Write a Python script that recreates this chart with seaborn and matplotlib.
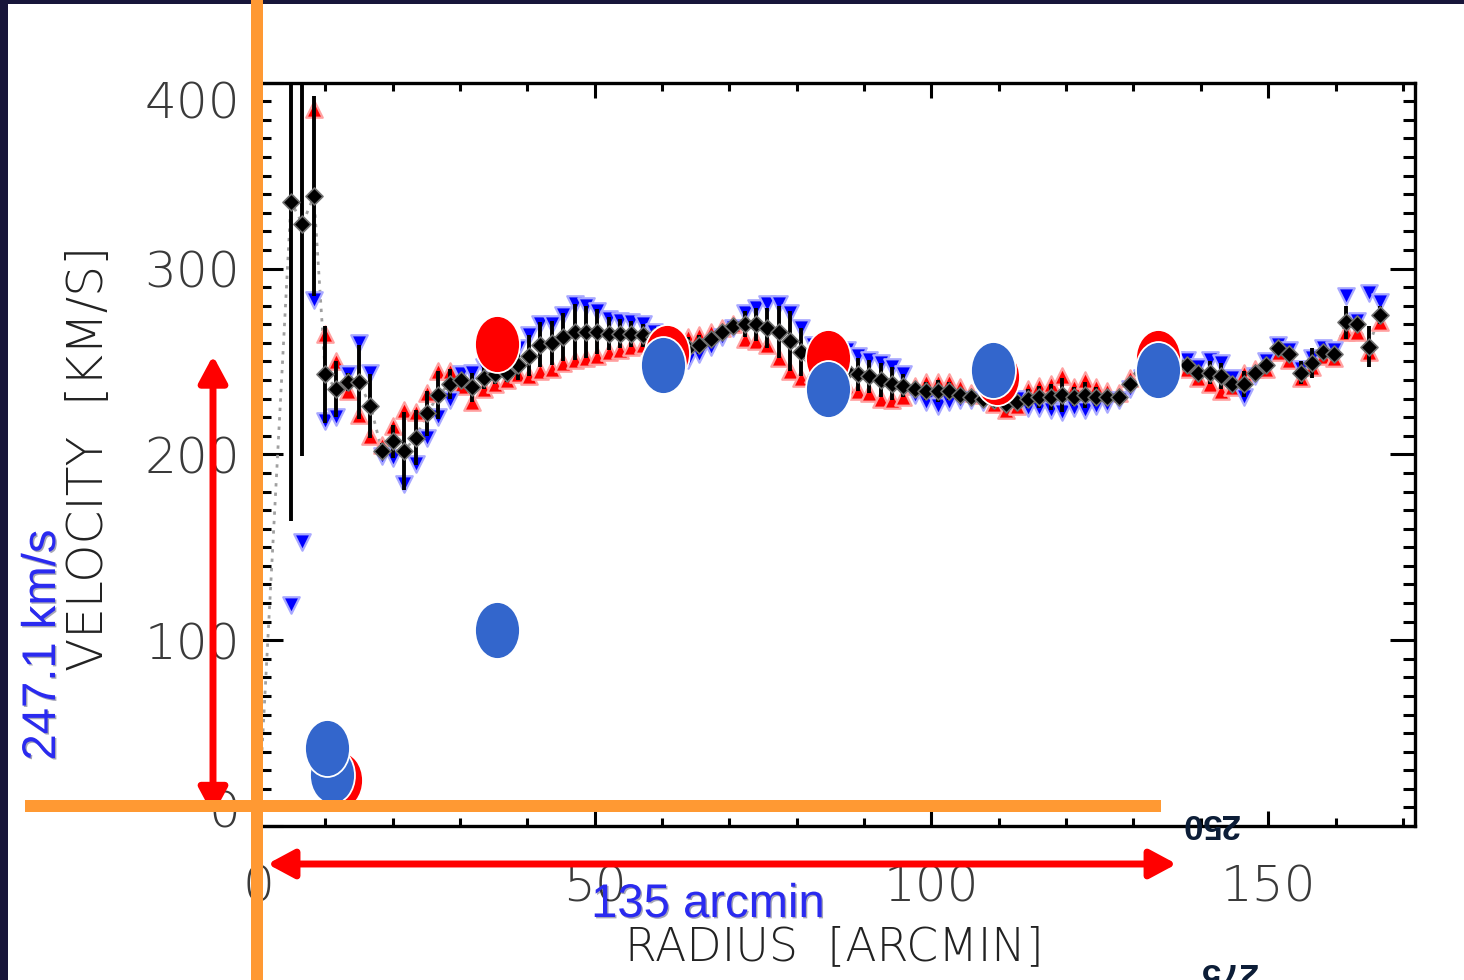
import numpy as np
import matplotlib
matplotlib.use("Agg")
import matplotlib.pyplot as plt
import seaborn as sns
from matplotlib.patches import Rectangle, FancyArrowPatch
from matplotlib.path import Path
from matplotlib.markers import MarkerStyle
from matplotlib.ticker import MultipleLocator
from matplotlib.transforms import Affine2D, ScaledTranslation, blended_transform_factory
import matplotlib.patheffects as pe

# ---- rotation curve: ring radii [arcmin] and velocities [km/s] ----
radius = [4.9, 6.6, 8.3, 10.0, 11.6, 13.3, 15.0, 16.7, 18.4, 20.1,
          21.7, 23.4, 25.1, 26.8, 28.5, 30.2, 31.8, 33.5, 35.2, 36.9,
          38.6, 40.3, 41.9, 43.6, 45.3, 47.0, 48.7, 50.4, 52.1, 53.7,
          55.4, 57.1, 58.8, 60.5, 62.2, 63.8, 65.5, 67.2, 68.9, 70.6,
          72.3, 73.9, 75.6, 77.3, 79.0, 80.7, 82.4, 84.0, 85.7, 87.4,
          89.1, 90.8, 92.5, 94.2, 95.8, 97.5, 99.2, 100.9, 102.6, 104.3,
          105.9, 107.6, 109.3, 111.0, 112.7, 114.4, 116.0, 117.7, 119.4, 121.1,
          122.8, 124.5, 126.1, 127.8, 129.5, 131.2, 132.9, 134.6, 136.3, 137.9,
          139.6, 141.3, 143.0, 144.7, 146.4, 148.0, 149.7, 151.4, 153.1, 154.8,
          156.5, 158.1, 159.8, 161.5, 163.2, 164.9, 166.6]

v_mean = [336, 324, 339, 243, 235, 239, 239, 226, 202, 207,
          202, 209, 222, 232, 238, 240, 236, 241, 243, 244,
          248, 253, 259, 260, 263, 266, 266, 266, 265, 265,
          265, 264, 263, 262, 259, 257, 259, 262, 266, 269,
          270, 270, 268, 266, 261, 255, 251, 249, 247, 245,
          243, 242, 240, 238, 237, 235, 234, 234, 234, 232,
          231, 230, 229, 227, 228, 230, 231, 231, 232, 231,
          232, 231, 231, 231, 238, 244, 247, 249, 249, 248,
          244, 244, 242, 238, 238, 244, 248, 257, 254, 244,
          249, 255, 254, 271, 270, 258, 275]

v_err = [172, 125, 54, 26, 15, 5, 20, 17, 4, 9,
         21, 15, 12, 13, 8, 3, 8, 6, 5, 5,
         8, 11, 12, 12, 13, 15, 14, 12, 9, 8,
         7, 6, 3, 2, 3, 6, 5, 4, 3, 2,
         7, 9, 11, 14, 16, 13, 8, 6, 7, 9,
         9, 9, 9, 9, 6, 3, 5, 6, 5, 3,
         2, 2, 2, 3, 2, 5, 6, 7, 9, 5,
         7, 5, 3, 2, 3, 3, 4, 3, 2, 3,
         3, 6, 7, 3, 7, 2, 2, 2, 3, 6,
         8, 2, 2, 9, 3, 11, 5]

# approaching side (red) and receding side (blue)
v_approach = [np.nan, np.nan, 386, 265, 250, 234, 221, 210, 205, 215,
              224, 223, 233, 245, 245, 237, 228, 235, 238, 240,
              243, 242, 245, 246, 249, 251, 252, 253, 255, 256,
              258, 259, 260, 261, 263, 263, 264, 266, 268, 270,
              262, 261, 259, 252, 245, 241, 243, 243, 241, 236,
              234, 233, 230, 229, 231, 237, 239, 239, 239, 236,
              233, 232, 227, 224, 226, 235, 237, 238, 242, 236,
              240, 236, 234, 233, 241, 247, 251, 252, 247, 246,
              241, 238, 234, 236, 244, 246, 246, 255, 251, 241,
              247, 253, 252, 266, 266, 255, 271]

v_recede = [119, 153, 283, 218, 220, 243, 260, 244, 199, 198,
            184, 195, 209, 220, 229, 243, 244, 247, 248, 249,
            257, 264, 270, 270, 275, 281, 280, 277, 273, 272,
            271, 270, 266, 264, 256, 251, 254, 258, 263, 268,
            276, 279, 281, 281, 276, 268, 259, 256, 255, 256,
            253, 251, 249, 247, 243, 232, 228, 226, 228, 229,
            229, 228, 231, 230, 230, 225, 225, 224, 223, 225,
            224, 226, 227, 229, 235, 241, 243, 246, 251, 251,
            247, 251, 249, 241, 231, 242, 250, 259, 256, 246,
            252, 257, 256, 285, 272, 287, 282]

# model points (large discs)
model_r_red = [12.2, 35.5, 60.7, 84.6, 109.7, 133.6]
model_v_red = [24.8, 259.5, 254.3, 251.6, 241.4, 251.6]
model_r_blue = [11.0, 10.3, 35.5, 60.1, 84.7, 109.2, 133.6]
model_v_blue = [27.4, 42.2, 105.5, 248.1, 235.3, 245.4, 245.4]

x_ticks = [0, 50, 100, 150]
y_ticks = [0, 100, 200, 300, 400]

# measured spans shown with arrows
span_velocity = 247.1
span_radius = 135.0

# ---------------------------------------------------------------
sns.set_style("ticks")
plt.rcParams["font.family"] = ["DejaVu Sans"]

W, H = 1464, 980
fig = plt.figure(figsize=(W / 100, H / 100), dpi=100)
fig.patch.set_facecolor("#18163a")
fig.add_artist(Rectangle((8 / W, 0), 1 - 8 / W, 1 - 4 / H, transform=fig.transFigure,
                         facecolor="white", edgecolor="none", zorder=-10))

ax = fig.add_axes([258 / W, 1 - 826 / H, (1415 - 258) / W, (826 - 82.7) / H])
ax.set_facecolor("white")

# dotted trace through the mean curve, starting at the centre
ax.plot([0.0] + radius, [0.0] + v_mean, ls=(0, (1.2, 2.2)), color="#a0a0a0", lw=2.0, zorder=1)

sns.scatterplot(x=radius, y=v_approach, marker="^", s=140, color="#ff0000",
                edgecolor="#ffa0a0", linewidth=1.6, zorder=2, ax=ax, legend=False)
sns.scatterplot(x=radius, y=v_recede, marker="v", s=140, color="#0000ff",
                edgecolor="#a8a8ff", linewidth=1.6, zorder=2, ax=ax, legend=False)
ax.errorbar(radius, v_mean, yerr=v_err, fmt="none", ecolor="black",
            elinewidth=2.8, capsize=0, zorder=3)
sns.scatterplot(x=radius, y=v_mean, marker="D", s=75, color="black",
                edgecolor="#707070", linewidth=1.2, zorder=4, ax=ax, legend=False)

ellipse = Path.unit_circle().transformed(Affine2D().scale(22.5 / 28.5, 1.0))
disc = MarkerStyle(ellipse)
sns.scatterplot(x=model_r_red, y=model_v_red, marker=disc, s=41 ** 2, color="#ff0000",
                edgecolor="white", linewidth=1.3, zorder=6, ax=ax, legend=False)
sns.scatterplot(x=model_r_blue, y=model_v_blue, marker=disc, s=41 ** 2, color="#3366cc",
                edgecolor="white", linewidth=1.3, zorder=7, ax=ax, legend=False)

ax.set_xlim(0, 171.8)
ax.set_ylim(0, 400)
ax.set_xlabel("")
ax.set_ylabel("")
ax.set_xticks(x_ticks, labels=[str(t) for t in x_ticks])
ax.set_yticks(y_ticks, labels=[str(t) for t in y_ticks])
ax.xaxis.set_minor_locator(MultipleLocator(10))
ax.yaxis.set_minor_locator(MultipleLocator(10))

for s in ax.spines.values():
    s.set_visible(True)
    s.set_color("black")
    s.set_linewidth(2.4)

ax.tick_params(axis="both", which="both", direction="in", top=True, right=True,
               color="black", labelsize=36, labelcolor="#3a3a3a")
ax.tick_params(axis="y", which="major", length=18, width=2.2, pad=13)
ax.tick_params(axis="y", which="minor", length=9, width=2.2)
ax.tick_params(axis="x", which="major", length=11, width=2.2, pad=27)
ax.tick_params(axis="x", which="minor", length=6, width=2.2)
for lbl in ax.get_xticklabels() + ax.get_yticklabels():
    lbl.set_fontweight("light")

yt = ax.yaxis.get_major_ticks()
yt[0].label1.set_transform(yt[0].label1.get_transform()
                           + ScaledTranslation(0, 18 / 100, fig.dpi_scale_trans))
yt[-1].label1.set_transform(yt[-1].label1.get_transform()
                            + ScaledTranslation(0, -17 / 100, fig.dpi_scale_trans))

# axis titles
fig.text(89 / W, 1 - 458 / H, "VELOCITY  [KM/S]", rotation=90, ha="center", va="center",
         fontsize=35, fontweight="light", color="#222222")
fig.text(834 / W, 1 - 947 / H, "RADIUS  [ARCMIN]", ha="center", va="center",
         fontsize=33, fontweight="light", color="#222222")

# orange guide bars
orange = "#ff9933"
fig.add_artist(Rectangle((251 / W, 0), 12 / W, 1, transform=fig.transFigure,
                         facecolor=orange, edgecolor="none", zorder=5))
fig.add_artist(Rectangle((25 / W, 1 - 812 / H), (1161 - 25) / W, 12 / H,
                         transform=fig.transFigure, facecolor=orange, edgecolor="none", zorder=5))

# red span arrows
arrow_style = "<|-|>,head_length=0.8,head_width=0.43"
v0 = 6.0
vert = FancyArrowPatch((213 / W, v0), (213 / W, v0 + span_velocity),
                       transform=blended_transform_factory(fig.transFigure, ax.transData),
                       arrowstyle=arrow_style, mutation_scale=20, color="#ff0000",
                       lw=5, shrinkA=0, shrinkB=0, zorder=4)
fig.add_artist(vert)
r0 = 1.4
horiz = FancyArrowPatch((r0, 1 - 864 / H), (r0 + span_radius, 1 - 864 / H),
                        transform=blended_transform_factory(ax.transData, fig.transFigure),
                        arrowstyle=arrow_style, mutation_scale=20, color="#ff0000",
                        lw=5, shrinkA=0, shrinkB=0, zorder=4)
fig.add_artist(horiz)

shadow = [pe.SimplePatchShadow(offset=(1.0, -1.0), shadow_rgbFace="#000033", alpha=0.35), pe.Normal()]
fig.text(43 / W, 1 - 645 / H, f"{span_velocity} km/s", rotation=90, ha="center", va="center",
         fontsize=34, family="Liberation Sans", color="#2a2af0", path_effects=shadow, zorder=8)
fig.text(708 / W, 1 - 905 / H, f"{span_radius:.0f} arcmin", ha="center", va="center",
         fontsize=34, family="Liberation Sans", color="#2a2af0", path_effects=shadow, zorder=8)

# inverted scale marks
fig.text(1210 / W, 1 - 823 / H, "250", rotation=180, ha="center", va="center",
         fontsize=25, fontweight="bold", family="Liberation Sans", color="#0b1c36", zorder=8)
fig.text(1228 / W, 1 - 972 / H, "275", rotation=180, ha="center", va="center",
         fontsize=25, fontweight="bold", family="Liberation Sans", color="#0b1c36", zorder=8)

fig.savefig("out.png", dpi=100, facecolor=fig.get_facecolor())
